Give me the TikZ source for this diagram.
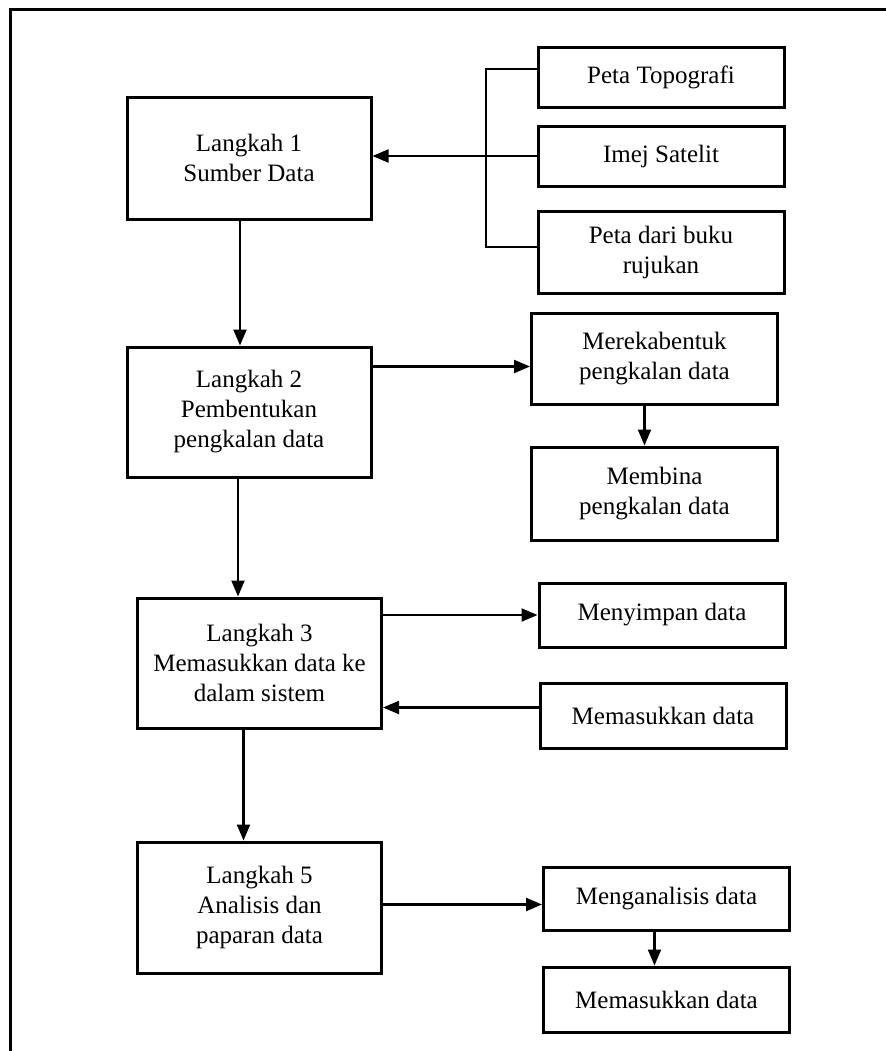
\documentclass[tikz,border=0pt]{standalone}
\usepackage{fontspec}
\setmainfont{Liberation Serif}
\usetikzlibrary{arrows.meta}

\tikzset{
  box/.style={draw, line width=1.5pt, align=center, inner sep=2pt,
    font=\fontsize{12.5}{15}\selectfont},
  stepbox/.style={box, minimum width=122pt},
  sidebox/.style={box, minimum width=123pt},
  flow/.style={line width=1.1pt, -{Triangle[length=8pt,width=6.5pt]}},
}

\begin{document}
\begin{tikzpicture}[x=0.5pt, y=-0.5pt]
  \useasboundingbox (0,0) rectangle (886,1051);
  \draw[line width=1.5pt] (10,1051) -- (10,9) -- (886,9);

  % langkah utama
  \node (step1) [stepbox, minimum height=61pt] at (249,158)
    {Langkah 1\\Sumber Data};
  \node (step2) [stepbox, minimum height=65pt] at (249,412)
    {Langkah 2\\Pembentukan\\pengkalan data};
  \node (step3) [stepbox, minimum height=65pt] at (259.5,663)
    {Langkah 3\\Memasukkan data ke\\dalam sistem};
  \node (step5) [stepbox, minimum height=65.5pt] at (259.5,907.5)
    {Langkah 5\\Analisis dan\\paparan data};

  % kotak sebelah kanan
  \node (topo) [sidebox, minimum height=30pt] at (661,77) {Peta Topografi};
  \node (imej) [sidebox, minimum height=30pt] at (661,156) {Imej Satelit};
  \node (buku) [sidebox, minimum height=41pt] at (661,252) {Peta dari buku\\rujukan};
  \node (reka) [sidebox, minimum height=45.5pt] at (654.5,358.5) {Merekabentuk\\pengkalan data};
  \node (bina) [sidebox, minimum height=46.5pt] at (654.5,493.5) {Membina\\pengkalan data};
  \node (simpan) [sidebox, minimum height=32pt] at (662,615) {Menyimpan data};
  \node (masuk) [sidebox, minimum height=32.5pt] at (663,715.5) {Memasukkan data};
  \node (analisis) [sidebox, minimum height=31.5pt] at (666.5,898.5) {Menganalisis data};
  \node (masukb) [sidebox, minimum height=32.5pt] at (666.5,999.5) {Memasukkan data};

  % penyambung
  \coordinate (brk) at (486,69);
  \draw[line width=1.1pt] ([yshift=4pt]topo.west) -- (brk)
    |- ([yshift=2.5pt]buku.west);
  \draw[flow] (imej.west) -- (imej.west -| step1.east);
  \draw[flow] ([xshift=-4.5pt]step1.south) -- ([xshift=-4.5pt]step2.north);
  \draw[flow] ([yshift=-4pt]reka.west -| step2.east) -- ([yshift=-4pt]reka.west);
  \draw[flow] ([xshift=-5pt]reka.south) -- ([xshift=-5pt]reka.south |- bina.north);
  \draw[flow] ([xshift=-5.5pt]step2.south) -- ([xshift=-5.5pt]step2.south |- step3.north);
  \draw[flow] (simpan.west -| step3.east) -- (simpan.west);
  \draw[flow] ([yshift=4pt]masuk.west) -- ([yshift=4pt]masuk.west -| step3.east);
  \draw[flow] ([xshift=-8pt]step3.south) -- ([xshift=-8pt]step5.north);
  \draw[flow] ([yshift=-3pt]analisis.west -| step5.east) -- ([yshift=-3pt]analisis.west);
  \draw[flow] ([xshift=-6pt]analisis.south) -- ([xshift=-6pt]masukb.north);
\end{tikzpicture}
\end{document}
